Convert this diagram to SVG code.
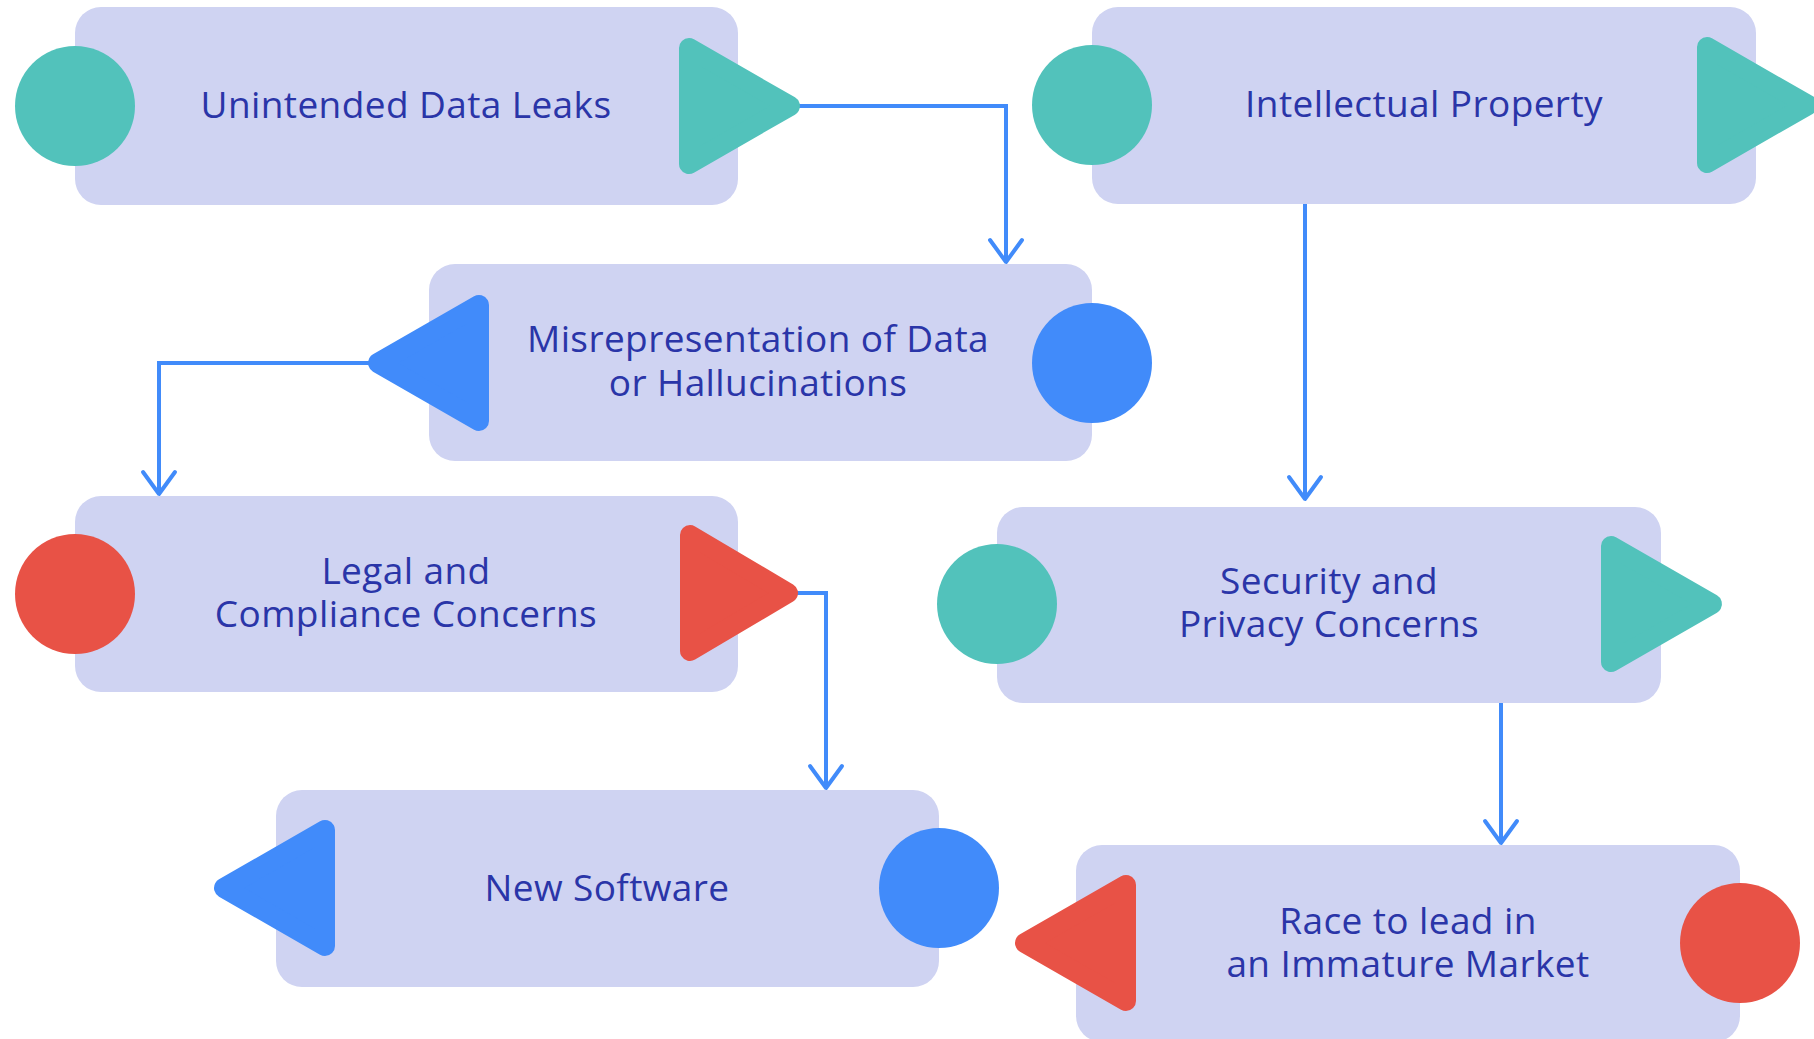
<svg xmlns="http://www.w3.org/2000/svg" width="1814" height="1039" viewBox="0 0 1814 1039">
<defs>
<style>
.box{fill:#CFD3F2}
.teal{fill:#52C2BB;stroke:#52C2BB}
.blue{fill:#418BFA;stroke:#418BFA}
.red{fill:#E85246;stroke:#E85246}
circle.teal,circle.blue,circle.red{stroke:none}
.tri{stroke-width:20;stroke-linejoin:round}
.lbl{font-family:"Open Sans","Liberation Sans",sans-serif;font-size:37px;letter-spacing:0.4px;fill:#2A35A8;text-anchor:middle}
.conn{fill:none;stroke:#418BFA;stroke-width:4}
</style>
<marker id="arr" viewBox="-26 -20 30 40" refX="0" refY="0" markerWidth="30" markerHeight="40" markerUnits="userSpaceOnUse" orient="auto">
<path d="M-22,-16 L0,0 L-22,16" fill="none" stroke="#418BFA" stroke-width="4" stroke-linecap="round" stroke-linejoin="round"/>
</marker>
</defs>
<rect width="1814" height="1039" fill="#FFFFFF"/>
<g id="connectors">
<path class="conn" d="M798,106 H1006 V262" marker-end="url(#arr)"/>
<path class="conn" d="M1305,204 V499" marker-end="url(#arr)"/>
<path class="conn" d="M370,363 H159 V494" marker-end="url(#arr)"/>
<path class="conn" d="M796,593 H826 V788" marker-end="url(#arr)"/>
<path class="conn" d="M1501,703 V843" marker-end="url(#arr)"/>
</g>
<g id="node-unintended-data-leaks">
<rect class="box" x="75" y="7" width="663" height="198" rx="26"/>
<circle class="teal" cx="75" cy="106" r="60"/>
<polygon class="teal tri" points="689,48 790,106 689,164"/>
<text class="lbl" x="406" y="118">Unintended Data Leaks</text>
</g>
<g id="node-intellectual-property">
<rect class="box" x="1092" y="7" width="664" height="197" rx="26"/>
<circle class="teal" cx="1092" cy="105" r="60"/>
<polygon class="teal tri" points="1707,47 1808,105 1707,163"/>
<text class="lbl" x="1424" y="117">Intellectual Property</text>
</g>
<g id="node-misrepresentation">
<rect class="box" x="429" y="264" width="663" height="197" rx="26"/>
<circle class="blue" cx="1092" cy="363" r="60"/>
<polygon class="blue tri" points="378,363 479,305 479,421"/>
<text class="lbl"><tspan x="758" y="352">Misrepresentation of Data</tspan><tspan x="758" y="396">or Hallucinations</tspan></text>
</g>
<g id="node-legal-compliance">
<rect class="box" x="75" y="496" width="663" height="196" rx="26"/>
<circle class="red" cx="75" cy="594" r="60"/>
<polygon class="red tri" points="690,535 788,593 690,651"/>
<text class="lbl"><tspan x="406" y="584">Legal and</tspan><tspan x="406" y="627">Compliance Concerns</tspan></text>
</g>
<g id="node-new-software">
<rect class="box" x="276" y="790" width="663" height="197" rx="26"/>
<circle class="blue" cx="939" cy="888" r="60"/>
<polygon class="blue tri" points="224,888 325,830 325,946"/>
<text class="lbl" x="607" y="901">New Software</text>
</g>
<g id="node-security-privacy">
<rect class="box" x="997" y="507" width="664" height="196" rx="26"/>
<circle class="teal" cx="997" cy="604" r="60"/>
<polygon class="teal tri" points="1611,546 1712,604 1611,662"/>
<text class="lbl"><tspan x="1329" y="594">Security and</tspan><tspan x="1329" y="637">Privacy Concerns</tspan></text>
</g>
<g id="node-race-immature-market">
<rect class="box" x="1076" y="845" width="664" height="197" rx="26"/>
<circle class="red" cx="1740" cy="943" r="60"/>
<polygon class="red tri" points="1025,943 1126,885 1126,1001"/>
<text class="lbl"><tspan x="1408" y="934">Race to lead in</tspan><tspan x="1408" y="977">an Immature Market</tspan></text>
</g>
</svg>
